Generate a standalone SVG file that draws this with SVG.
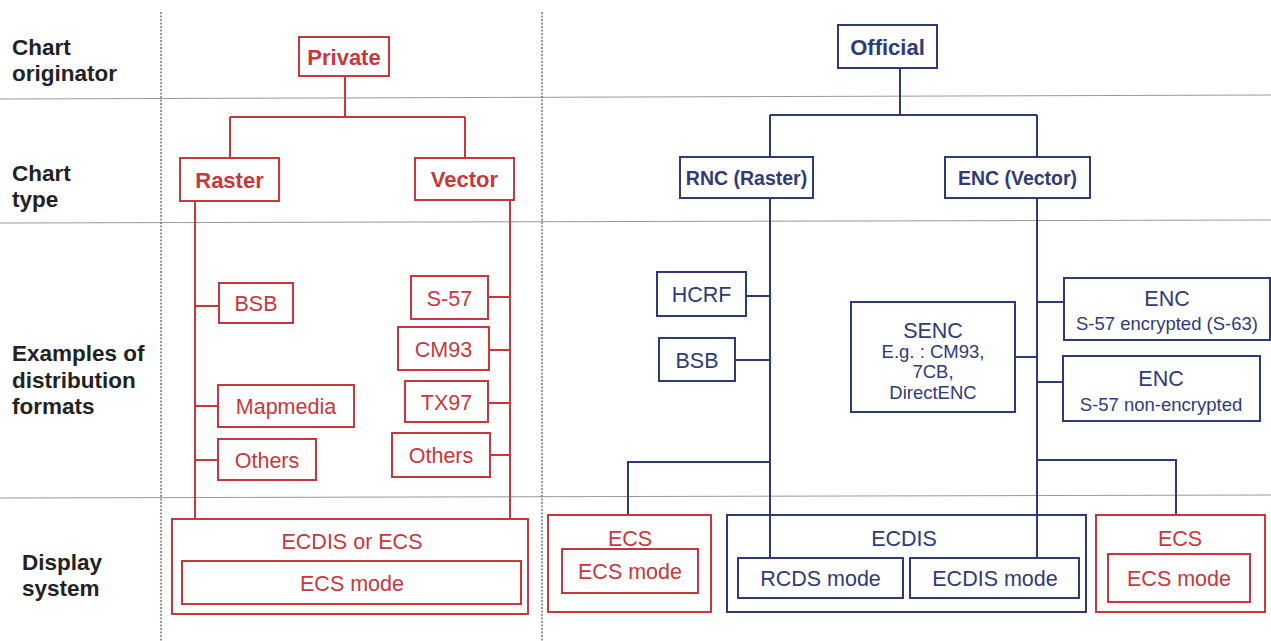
<svg xmlns="http://www.w3.org/2000/svg" width="1271" height="641" viewBox="0 0 1271 641">
<style>
.r{fill:#fff;stroke:#c9373d;stroke-width:2}
.b{fill:#fff;stroke:#2e3b78;stroke-width:2}
.nf{fill:none}
.rt{fill:#c9373d;font-family:"Liberation Sans",Arial,sans-serif;font-size:21.5px;text-anchor:middle}
.bt{fill:#2e3b78;font-family:"Liberation Sans",Arial,sans-serif;font-size:21.5px;text-anchor:middle}
.bold{font-weight:bold;font-size:22px}
.bs{font-weight:bold;font-size:19.5px}
.sm{font-size:18.5px}
.lab{fill:#222;font-family:"Liberation Sans",Arial,sans-serif;font-size:22.5px;font-weight:bold}
.rl{stroke:#c9373d;stroke-width:2;fill:none}
.bl{stroke:#2e3b78;stroke-width:2;fill:none}
.sep{stroke:#999;stroke-width:1;fill:none}
.dot{stroke:#555;stroke-width:1.2;stroke-dasharray:2 1.5;fill:none}
</style>
<rect width="1271" height="641" fill="#fff"/>
<g id="grid">
<line class="sep" x1="0" y1="99" x2="1271" y2="95"/>
<line class="sep" x1="0" y1="223" x2="1271" y2="220"/>
<line class="sep" x1="0" y1="498" x2="1271" y2="495"/>
<line class="dot" x1="161" y1="12" x2="161" y2="641"/>
<line class="dot" x1="542" y1="12" x2="542" y2="641"/>
</g>
<g id="labels">
<text class="lab" x="12" y="55">Chart</text>
<text class="lab" x="12" y="81">originator</text>
<text class="lab" x="12" y="181">Chart</text>
<text class="lab" x="12" y="207">type</text>
<text class="lab" x="12" y="361">Examples of</text>
<text class="lab" x="12" y="388">distribution</text>
<text class="lab" x="12" y="414">formats</text>
<text class="lab" x="22" y="570">Display</text>
<text class="lab" x="22" y="596">system</text>
</g>
<g id="connectors">
<path class="rl" d="M345 76V117M230 117H465M230 117V158M465 117V158"/>
<path class="rl" d="M195 201V519M510 200V519"/>
<path class="rl" d="M195 306H219M195 406H218M195 460H218"/>
<path class="rl" d="M510 297H488M510 350H489M510 403H488M510 455H490"/>
<path class="bl" d="M900 68V115M770 115H1037M770 115V157M1037 115V157"/>
<path class="bl" d="M770 198V558M1037 198V558"/>
<path class="bl" d="M770 296H746M770 360H735"/>
<path class="bl" d="M1037 302H1064M1037 382H1063M1015 357H1037"/>
<path class="bl" d="M770 462H628V515M1037 460H1176V515"/>
</g>
<g id="private"><rect class="r" x="299" y="37" width="90" height="39"/><text class="rt bold" x="344" y="64.5">Private</text></g>
<g id="raster"><rect class="r" x="180" y="158" width="99" height="43"/><text class="rt bold" x="229.5" y="187.5">Raster</text></g>
<g id="vector"><rect class="r" x="415" y="158" width="99" height="42"/><text class="rt bold" x="464.5" y="187">Vector</text></g>
<g id="bsb-l"><rect class="r" x="219" y="283" width="74" height="40"/><text class="rt" x="256" y="311">BSB</text></g>
<g id="mapmedia"><rect class="r" x="218" y="385" width="136" height="42"/><text class="rt" x="286" y="414">Mapmedia</text></g>
<g id="others-l"><rect class="r" x="218" y="439" width="98" height="41"/><text class="rt" x="267" y="467.5">Others</text></g>
<g id="s57"><rect class="r" x="411" y="276" width="77" height="43"/><text class="rt" x="449.5" y="305.5">S-57</text></g>
<g id="cm93"><rect class="r" x="398" y="327" width="91" height="43"/><text class="rt" x="443.5" y="356.5">CM93</text></g>
<g id="tx97"><rect class="r" x="405" y="381" width="83" height="41"/><text class="rt" x="446.5" y="409.5">TX97</text></g>
<g id="others-r"><rect class="r" x="392" y="433" width="98" height="44"/><text class="rt" x="441" y="463">Others</text></g>
<g id="ecdis-or-ecs"><rect class="r" x="172" y="519" width="356" height="95"/><text class="rt" x="352" y="549">ECDIS or ECS</text><rect class="r" x="182" y="561" width="339" height="43"/><text class="rt" x="352" y="590.5">ECS mode</text></g>
<g id="official"><rect class="b" x="838" y="25" width="99" height="43"/><text class="bt bold" x="887.5" y="54.5">Official</text></g>
<g id="rnc"><rect class="b" x="680" y="157" width="133" height="41"/><text class="bt bs" x="746.5" y="184.5">RNC (Raster)</text></g>
<g id="enc"><rect class="b" x="945" y="157" width="145" height="41"/><text class="bt bs" x="1017.5" y="184.5">ENC (Vector)</text></g>
<g id="hcrf"><rect class="b" x="657" y="272" width="89" height="44"/><text class="bt" x="701.5" y="302">HCRF</text></g>
<g id="bsb-r"><rect class="b" x="659" y="338" width="76" height="43"/><text class="bt" x="697" y="367.5">BSB</text></g>
<g id="senc"><rect class="b" x="851" y="302" width="164" height="110"/><text class="bt" x="933" y="338">SENC</text><text class="bt sm" x="933" y="357.5">E.g. : CM93,</text><text class="bt sm" x="933" y="377.5">7CB,</text><text class="bt sm" x="933" y="398.5">DirectENC</text></g>
<g id="enc-enc"><rect class="b" x="1064" y="278" width="206" height="62"/><text class="bt" x="1167" y="306">ENC</text><text class="bt sm" x="1167" y="329.5">S-57 encrypted (S-63)</text></g>
<g id="enc-non"><rect class="b" x="1063" y="356" width="197" height="65"/><text class="bt" x="1161" y="386">ENC</text><text class="bt sm" x="1161" y="410.5">S-57 non-encrypted</text></g>
<g id="ecs-l"><rect class="r" x="548" y="515" width="163" height="97"/><text class="rt" x="630" y="546">ECS</text><rect class="r" x="562" y="549" width="136" height="44"/><text class="rt" x="630" y="579">ECS mode</text></g>
<g id="ecdis"><rect class="b nf" x="727" y="515" width="359" height="97"/><text class="bt" x="904" y="546">ECDIS</text><rect class="b" x="738" y="558" width="165" height="40"/><text class="bt" x="820.5" y="586">RCDS mode</text><rect class="b" x="910" y="558" width="169" height="40"/><text class="bt" x="995" y="586">ECDIS mode</text></g>
<g id="ecs-r"><rect class="r" x="1096" y="515" width="169" height="97"/><text class="rt" x="1180" y="546">ECS</text><rect class="r" x="1108" y="554" width="142" height="48"/><text class="rt" x="1179" y="586">ECS mode</text></g>
</svg>
